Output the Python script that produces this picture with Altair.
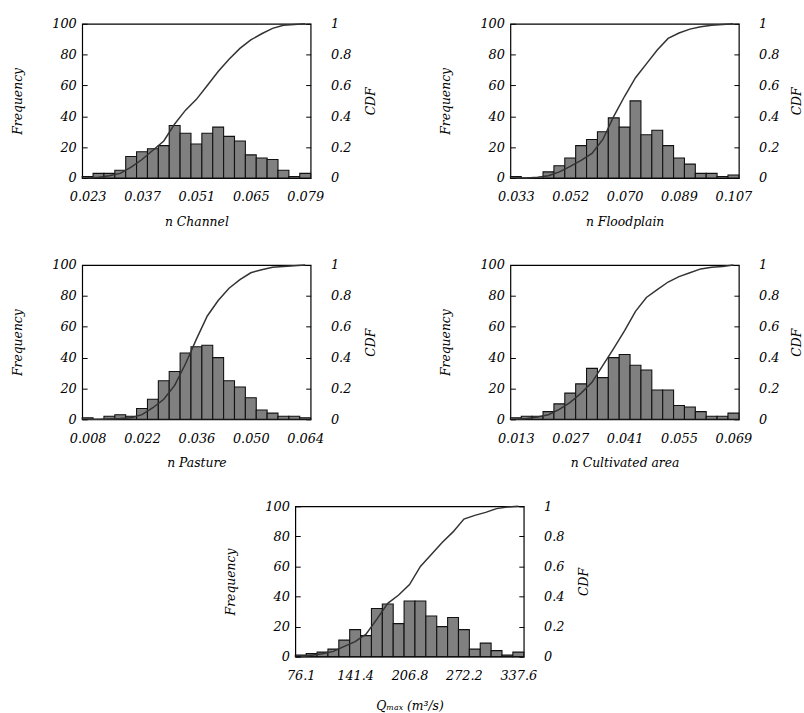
import altair as alt
import pandas as pd

# ---------------- data ----------------
titles = ["n Channel", "n Floodplain", "n Pasture", "n Cultivated area", "Qₘₐₓ (m³/s)"]

tick_labels = [
    ["0.023", "0.037", "0.051", "0.065", "0.079"],
    ["0.033", "0.052", "0.070", "0.089", "0.107"],
    ["0.008", "0.022", "0.036", "0.050", "0.064"],
    ["0.013", "0.027", "0.041", "0.055", "0.069"],
    ["76.1", "141.4", "206.8", "272.2", "337.6"],
]

freq_channel = [1, 3, 3, 5, 14, 17, 19, 21, 34, 29, 22, 29, 33, 27, 24, 15, 13, 12, 5, 1, 3]
freq_floodplain = [1, 0, 0, 4, 8, 13, 21, 25, 30, 39, 33, 50, 28, 31, 21, 13, 9, 3, 3, 1, 2]
freq_pasture = [1, 0, 2, 3, 2, 7, 13, 25, 31, 43, 47, 48, 40, 25, 21, 14, 6, 4, 2, 2, 1]
freq_cultivated = [1, 2, 2, 5, 10, 17, 23, 33, 27, 40, 42, 35, 32, 19, 19, 9, 8, 5, 2, 2, 4]
freq_qmax = [1, 2, 3, 5, 11, 18, 14, 32, 35, 22, 37, 37, 27, 20, 26, 18, 5, 9, 4, 1, 3]

cdf_channel = [0.0, 0.005, 0.015, 0.03, 0.07, 0.12, 0.18, 0.24, 0.35, 0.44, 0.51,
               0.60, 0.69, 0.77, 0.84, 0.895, 0.935, 0.97, 0.99, 0.995, 1.0]
cdf_floodplain = [0.0, 0.0, 0.005, 0.015, 0.04, 0.075, 0.115, 0.16, 0.25, 0.40, 0.53,
                  0.65, 0.74, 0.83, 0.905, 0.94, 0.965, 0.98, 0.99, 0.995, 1.0]
cdf_pasture = [0.0, 0.0, 0.002, 0.005, 0.01, 0.03, 0.075, 0.13, 0.22, 0.36, 0.52,
               0.67, 0.77, 0.85, 0.905, 0.95, 0.97, 0.985, 0.99, 0.995, 1.0]
cdf_cultivated = [0.0, 0.005, 0.015, 0.03, 0.065, 0.11, 0.17, 0.24, 0.35, 0.46, 0.575,
                  0.70, 0.79, 0.84, 0.89, 0.925, 0.95, 0.975, 0.985, 0.99, 1.0]
cdf_qmax = [0.0, 0.01, 0.02, 0.035, 0.068, 0.10, 0.15, 0.25, 0.355, 0.41, 0.48,
            0.60, 0.68, 0.76, 0.83, 0.915, 0.94, 0.96, 0.985, 0.995, 1.0]

freqs = [freq_channel, freq_floodplain, freq_pasture, freq_cultivated, freq_qmax]
cdfs = [cdf_channel, cdf_floodplain, cdf_pasture, cdf_cultivated, cdf_qmax]

FONT = "DejaVu Serif"


def panel(freq, cdf, labels, title, width, height, x_title_pad, cdf_title_pad):
    n = len(freq)
    df = pd.DataFrame({"bin": list(range(1, n + 1)), "freq": freq, "cdf": cdf})
    xscale = alt.Scale(domain=[0.5, n + 0.5], nice=False, zero=False)
    arr = "[" + ",".join("'" + s + "'" for s in labels) + "]"
    tick_bins = [1 + 5 * i for i in range(len(labels))]
    xaxis = alt.Axis(
        values=tick_bins,
        labelExpr=arr + "[round((datum.value-1)/5)]",
        title=title,
        ticks=False,
        domain=False,
        grid=False,
        labelPadding=13,
        titlePadding=x_title_pad,
        labelFlush=False,
    )
    bars = (
        alt.Chart(df)
        .transform_calculate(lo="datum.bin - 0.5", hi="datum.bin + 0.5")
        .mark_rect(fill="#808080", stroke="#111111", strokeWidth=1.1)
        .encode(
            x=alt.X("lo:Q", scale=xscale, axis=xaxis),
            x2="hi:Q",
            y=alt.Y(
                "freq:Q",
                scale=alt.Scale(domain=[0, 100], nice=False),
                axis=alt.Axis(
                    title="Frequency",
                    values=[0, 20, 40, 60, 80, 100],
                    offset=-5,
                    tickSize=5,
                    tickColor="black",
                    domain=False,
                    grid=False,
                    labelPadding=6,
                    titlePadding=28,
                ),
            ),
            y2=alt.datum(0),
        )
    )
    line = (
        alt.Chart(df)
        .mark_line(color="#333333", strokeWidth=1.5)
        .encode(
            x=alt.X("bin:Q", scale=xscale, axis=xaxis),
            y=alt.Y(
                "cdf:Q",
                scale=alt.Scale(domain=[0, 1], nice=False),
                axis=alt.Axis(
                    title="CDF",
                    orient="right",
                    values=[0, 0.2, 0.4, 0.6, 0.8, 1],
                    format="~g",
                    offset=-5,
                    tickSize=5,
                    tickColor="black",
                    domain=False,
                    grid=False,
                    labelPadding=20,
                    titlePadding=cdf_title_pad,
                    titleAngle=270,
                ),
            ),
        )
    )
    return (
        alt.layer(bars, line)
        .resolve_scale(y="independent")
        .properties(width=width, height=height)
    )


x_title_pads = [12, 12, 12, 12, 17]
cdf_title_pads = [27, 25, 27, 25, 27]
panels = [
    panel(freqs[i], cdfs[i], tick_labels[i], titles[i], 231, 156 if i < 4 else 152,
          x_title_pads[i], cdf_title_pads[i])
    for i in range(5)
]

row1 = alt.hconcat(panels[0], panels[1], spacing=61)
row2 = alt.hconcat(panels[2], panels[3], spacing=61)

chart = (
    alt.vconcat(row1, row2, panels[4], spacing=29, center=True)
    .properties(padding={"left": 10, "top": 13, "right": 0, "bottom": 0})
    .configure(background="white")
    .configure_view(stroke="black", strokeWidth=1.2)
    .configure_axis(
        labelFont=FONT,
        labelFontStyle="italic",
        labelFontSize=13,
        labelColor="black",
        titleFont=FONT,
        titleFontStyle="italic",
        titleFontWeight="normal",
        titleFontSize=12.5,
        titleColor="black",
    )
)

chart.save("out.html", embed_options={"renderer": "svg", "actions": False})
